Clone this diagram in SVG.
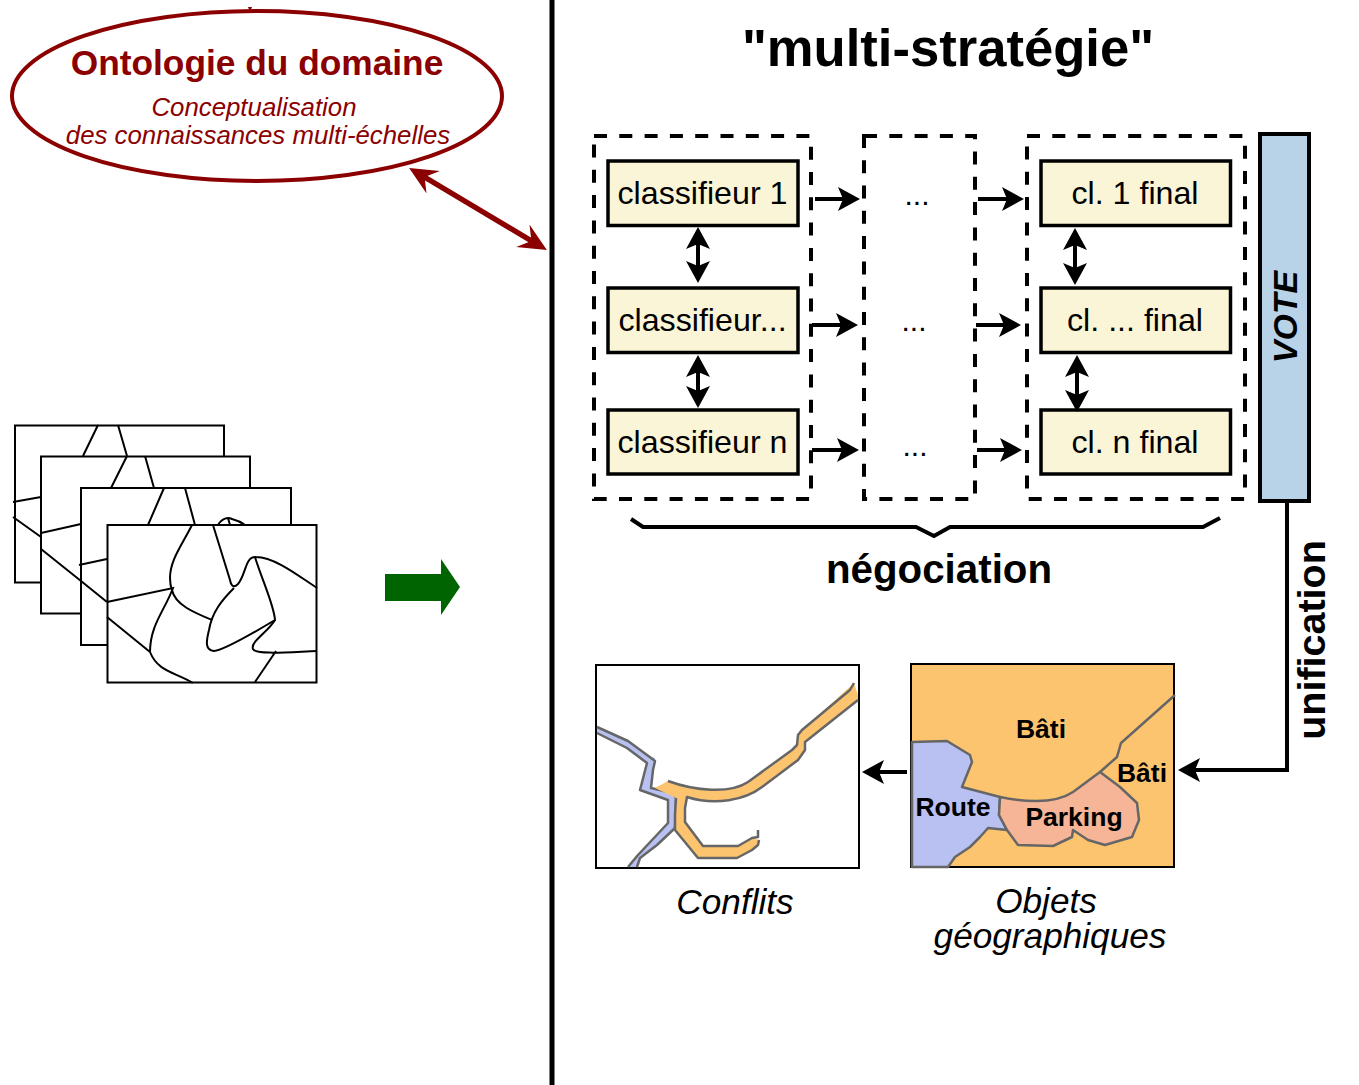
<svg xmlns="http://www.w3.org/2000/svg" width="1359" height="1085" viewBox="0 0 1359 1085">
<style>
text{font-family:"Liberation Sans",Arial,sans-serif}
.box{fill:#fbf5d7;stroke:#000;stroke-width:3.500}
.lb{font-size:32.200px;text-anchor:middle;fill:#000}
.dash{fill:none;stroke:#000;stroke-width:4;stroke-dasharray:13 12.300}
.dots{font-size:30px;text-anchor:middle}
.con{fill:none;stroke:#000;stroke-width:4}
.map{fill:#fff;stroke:#000;stroke-width:2}
.ml{fill:none;stroke:#000;stroke-width:2}
.g{fill:none;stroke:#666;stroke-width:2.500;stroke-linejoin:round}
.bl{font-weight:bold;font-size:26.500px;text-anchor:middle}
.cap{font-style:italic;font-size:35.200px;text-anchor:middle}
</style>
<defs>
<marker id="ah" markerUnits="userSpaceOnUse" markerWidth="24" markerHeight="26" refX="16" refY="12" orient="auto-start-reverse"><path d="M0 0L22 12L0 24L5 12Z" fill="#000"/></marker>
<marker id="rh" markerUnits="userSpaceOnUse" markerWidth="30" markerHeight="28" refX="20" refY="13" orient="auto-start-reverse"><path d="M0 0L28 13L0 26L10 13Z" fill="#8b0000"/></marker>
</defs>
<rect width="1359" height="1085" fill="#fff"/>
<path d="M552 0V1085" stroke="#000" stroke-width="5"/>
<g id="ontologie">
<ellipse cx="257" cy="96" rx="245" ry="85" fill="#fff" stroke="#8b0000" stroke-width="4"/>
<path d="M248 7H252L250 12Z" fill="#8b0000"/>
<text x="257" y="75" font-size="35.300" font-weight="bold" fill="#8b0000" text-anchor="middle">Ontologie du domaine</text>
<text x="254" y="116" font-size="25.800" font-style="italic" fill="#8b0000" text-anchor="middle">Conceptualisation</text>
<text x="258" y="144" font-size="25.800" font-style="italic" fill="#8b0000" text-anchor="middle">des connaissances multi-échelles</text>
</g>
<g id="cartes">
<rect class="map" x="15" y="425.500" width="209" height="157"/>
<path class="ml" d="M83 456L98 425M127 456L118 425M13 502L41 497M13 517L41 537"/>
<rect class="map" x="41" y="456.500" width="209" height="157"/>
<path class="ml" d="M111 488L127 456M154 488L145 456M41 533L81 524M41 549L81 581"/>
<rect class="map" x="81" y="488" width="210" height="157"/>
<path class="ml" d="M148 525L164 488M195 525L185 488M79 565L107 559M81 581L107 602M218 525C222 518 228 517 232 519C236 520 241 522 245 525M228 518L230 525"/>
<rect class="map" x="107.500" y="525" width="209" height="157.500"/>
<path class="ml" d="M192 525C182 545 170 560 170 578Q170 585 172 590C175 605 195 613 212 620"/>
<path class="ml" d="M213 525L230 580Q232 590 238 584C246 575 245 556 256 557C275 557 300 577 317 588"/>
<path class="ml" d="M234 588C222 600 212 612 209 630C206 642 205 650 214 651C225 650 255 632 275 620C274 605 262 580 255 557"/>
<path class="ml" d="M275 620C268 632 250 642 253 649C256 655 290 652 317 651M276 651L255 682"/>
<path class="ml" d="M107 602L173 588C165 610 150 625 150 652C158 672 175 672 193 683M107 617L150 652"/>
</g>
<path id="fleche-verte" d="M385 574H441V559L460 587L441 615V601H385Z" fill="#006400"/>
<text x="948" y="66" font-size="52.600" font-weight="bold" text-anchor="middle">"multi-stratégie"</text>
<g id="groupe-classifieurs">
<rect class="dash" x="594" y="136" width="217" height="363"/>
</g>
<g id="groupe-milieu">
<rect class="dash" x="864" y="136" width="111" height="363"/>
<text class="dots" x="917" y="205">...</text>
<text class="dots" x="914" y="331">...</text>
<text class="dots" x="915" y="456">...</text>
</g>
<g id="groupe-final">
<rect class="dash" x="1027" y="136" width="218" height="363"/>
</g>
<g id="classifieur-1"><rect class="box" x="608" y="161" width="190" height="64.500"/><text class="lb" x="702.500" y="204">classifieur 1</text></g>
<g id="classifieur-i"><rect class="box" x="608" y="288" width="190" height="64.500"/><text class="lb" x="702.500" y="331">classifieur...</text></g>
<g id="classifieur-n"><rect class="box" x="608" y="410" width="190" height="64"/><text class="lb" x="702.500" y="453">classifieur n</text></g>
<g id="final-1"><rect class="box" x="1041" y="161" width="189.500" height="64.500"/><text class="lb" x="1135" y="204">cl. 1 final</text></g>
<g id="final-i"><rect class="box" x="1041" y="288" width="189.500" height="64.500"/><text class="lb" x="1135" y="331">cl. ... final</text></g>
<g id="final-n"><rect class="box" x="1041" y="410" width="189.500" height="64"/><text class="lb" x="1135" y="453">cl. n final</text></g>
<g id="vote">
<rect x="1260" y="134" width="49" height="367" fill="#b8d3e8" stroke="#000" stroke-width="4"/>
<text transform="translate(1297,317) rotate(-90)" font-size="34" font-weight="bold" font-style="italic" text-anchor="middle">VOTE</text>
</g>
<g id="connecteurs">
<path class="con" d="M698 233V277" marker-start="url(#ah)" marker-end="url(#ah)"/>
<path class="con" d="M698 361V402" marker-start="url(#ah)" marker-end="url(#ah)"/>
<path class="con" d="M1075 234V279" marker-start="url(#ah)" marker-end="url(#ah)"/>
<path class="con" d="M1077 361V406" marker-start="url(#ah)" marker-end="url(#ah)"/>
<path class="con" d="M815 199H854" marker-end="url(#ah)"/>
<path class="con" d="M812 325H852" marker-end="url(#ah)"/>
<path class="con" d="M812 450H853" marker-end="url(#ah)"/>
<path class="con" d="M978 199H1018" marker-end="url(#ah)"/>
<path class="con" d="M976 325H1015" marker-end="url(#ah)"/>
<path class="con" d="M977 450H1016" marker-end="url(#ah)"/>
<path class="con" d="M1287 502V770H1184" marker-end="url(#ah)"/>
<path class="con" d="M907 772H868" marker-end="url(#ah)"/>
<path d="M416 172L540 246" fill="none" stroke="#8b0000" stroke-width="5.500" marker-start="url(#rh)" marker-end="url(#rh)"/>
<path class="con" d="M631 519L643 527H916L934 536L950 527H1203L1220 518"/>
</g>
<text x="939" y="583" font-size="40.300" font-weight="bold" text-anchor="middle">négociation</text>
<text transform="translate(1325,640) rotate(-90)" font-size="39.500" font-weight="bold" text-anchor="middle">unification</text>
<g id="conflits">
<rect x="596" y="665" width="263" height="203" fill="#fff" stroke="#000" stroke-width="2"/>
<path fill="#b8c1f2" d="M597 727L628 741L647 755L655 758L651 788L673 793L676 798L675 828L657 845L640 858L637 867H628L638 855L668 823V800L640 790L647 763L627 748L597 733Z"/>
<path class="g" d="M597 727L628 741L647 755L655 761L653 770L651 788L673 793L676 798L675 828L657 845L640 858L637 867M628 867L638 855L668 823V800L640 790L647 763L627 748L597 733"/>
<path fill="#fdc46f" d="M854 683L858 695V700L805 742V750L798 760L762 787C745 800 715 806 687 797L685 808V822L703 846H738L752 838L759 840L758 845L752 850L737 858H698L675 830V815L676 798L655 788L668 781C695 791 730 794 748 782L792 750L797 745L798 735L802 730Z"/>
<path class="g" d="M668 781C695 791 730 794 748 782L792 750L797 745L798 735L802 730L850 690L854 683M858 700L805 742V750L798 760L762 787C745 800 715 806 687 797L685 808V822L703 846H738L752 838L758 837L758 830M759 840L758 845L752 850L737 858H698L675 830V815L676 798"/>
</g>
<g id="objets">
<rect x="911" y="664" width="263" height="203" fill="#fdc46f" stroke="#000" stroke-width="2"/>
<path class="g" style="fill:#b8c1f2" d="M912 742L947 741L970 755L972 762L962 787L1000 797L999 815L1007 830L988 828L980 837L970 847L955 857L948 867H912Z"/>
<path class="g" style="fill:#f5b596" d="M1000 797C1025 802 1055 804 1073 792L1100 772L1120 787L1137 803L1139 820L1132 837L1105 845L1088 840L1073 830L1072 837L1053 846L1018 845L1007 830L999 815Z"/>
<path class="g" d="M1100 772L1117 757L1121 743L1175 695"/>
<text class="bl" x="1041" y="738">Bâti</text>
<text class="bl" x="1142" y="782">Bâti</text>
<text class="bl" x="953" y="816">Route</text>
<text class="bl" x="1074" y="826">Parking</text>
</g>
<text class="cap" x="735" y="914">Conflits</text>
<text class="cap" x="1046" y="913">Objets</text>
<text class="cap" x="1050" y="948">géographiques</text>
</svg>
